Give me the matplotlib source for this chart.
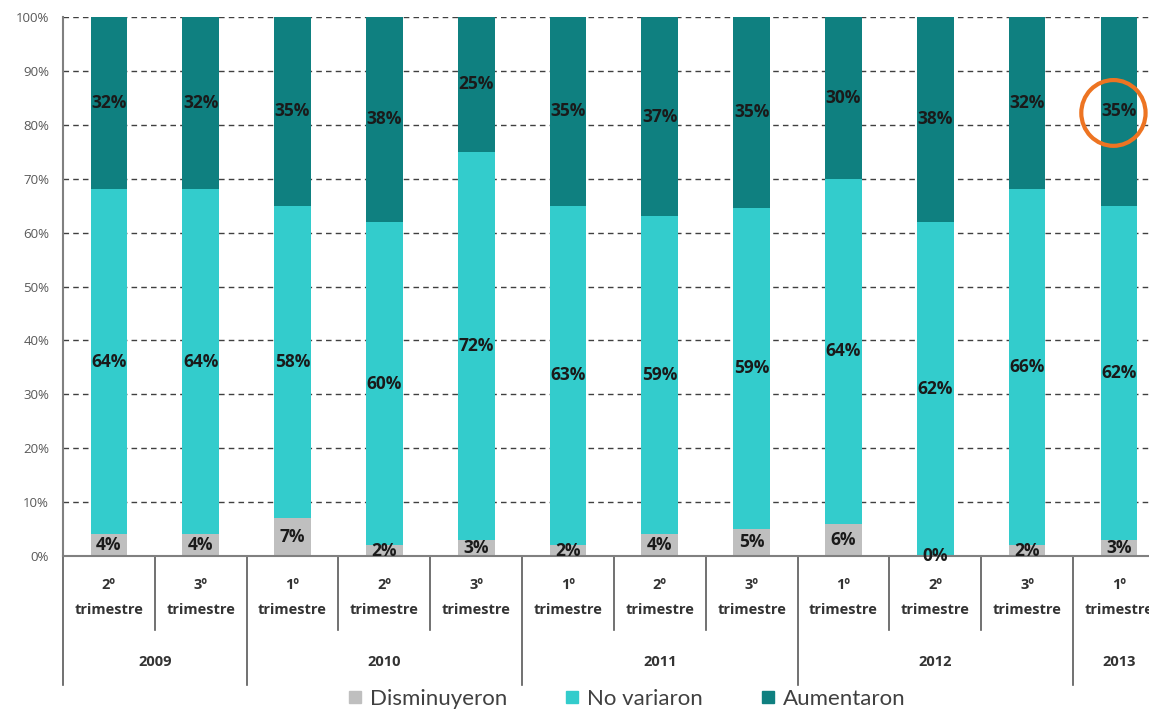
import matplotlib.pyplot as plt
from matplotlib.patches import Ellipse
from matplotlib.lines import Line2D

plt.rcParams['font.family'] = ['Open Sans', 'DejaVu Sans']

# Data
quarters = ["2º", "3º", "1º", "2º", "3º", "1º", "2º", "3º", "1º", "2º", "3º", "1º"]
years = ["2009", "2010", "2011", "2012", "2013"]
year_spans = [(0, 1), (2, 4), (5, 7), (8, 10), (11, 11)]
disminuyeron = [4, 4, 7, 2, 3, 2, 4, 5, 6, 0, 2, 3]
no_variaron = [64, 64, 58, 60, 72, 63, 59, 59, 64, 62, 66, 62]
aumentaron = [32, 32, 35, 38, 25, 35, 37, 35, 30, 38, 32, 35]

c_dis = "#BFBFBF"
c_nov = "#33CCCC"
c_aum = "#0F8080"

# 100% stacked: scale each bar to its total
tot = [a + b + c for a, b, c in zip(disminuyeron, no_variaron, aumentaron)]
h_dis = [v * 100 / t for v, t in zip(disminuyeron, tot)]
h_nov = [v * 100 / t for v, t in zip(no_variaron, tot)]
h_aum = [v * 100 / t for v, t in zip(aumentaron, tot)]
b_aum = [a + b for a, b in zip(h_dis, h_nov)]

fig = plt.figure(figsize=(11.49, 7.15), dpi=100)
ax = fig.add_axes([0.0548, 0.2224, 0.959, 0.7538])

x = list(range(len(quarters)))
w = 0.40
ax.bar(x, h_dis, w, color=c_dis, zorder=2)
ax.bar(x, h_nov, w, bottom=h_dis, color=c_nov, zorder=2)
ax.bar(x, h_aum, w, bottom=b_aum, color=c_aum, zorder=2)

lab = dict(ha="center", va="center", fontsize=12.5, fontweight="bold", color="#1a1a1a", zorder=4)
for i in x:
    ax.text(i, h_dis[i] / 2, f"{disminuyeron[i]}%", **lab)
    ax.text(i, h_dis[i] + h_nov[i] / 2, f"{no_variaron[i]}%", **lab)
    ax.text(i, b_aum[i] + h_aum[i] / 2, f"{aumentaron[i]}%", **lab)

ax.set_xlim(-0.5, 11.5)
ax.set_ylim(0, 100)
ax.set_yticks(range(0, 101, 10))
ax.set_yticklabels([f"{v}%" for v in range(0, 101, 10)], fontsize=9.5, color="#595959")
ax.yaxis.grid(True, linestyle=(0, (4, 3)), color="#404040", linewidth=1, zorder=1)
ax.set_xticks([])
ax.tick_params(axis="y", length=0, pad=10)
for s in ["top", "right"]:
    ax.spines[s].set_visible(False)
ax.spines["left"].set_color("#808080")
ax.spines["left"].set_linewidth(1.5)
ax.spines["bottom"].set_color("#808080")
ax.spines["bottom"].set_linewidth(1.5)

# category axis labels and separators
tr = ax.get_xaxis_transform()
for i, q in enumerate(quarters):
    ax.text(i, -0.054, q, transform=tr, ha="center", va="center",
            fontsize=10.5, fontweight="bold", color="#333333")
    ax.text(i, -0.100, "trimestre", transform=tr, ha="center", va="center",
            fontsize=10.5, fontweight="bold", color="#333333")
year_edges = [-0.5] + [e + 0.5 for _, e in year_spans]
for i in range(len(quarters)):
    b = i - 0.5
    if b in year_edges:
        continue
    ax.add_line(Line2D([b, b], [0, -0.137], transform=tr, color="#595959",
                       linewidth=1.2, clip_on=False))
for b in year_edges:
    ax.add_line(Line2D([b, b], [0, -0.239], transform=tr, color="#595959",
                       linewidth=1.2, clip_on=False))
for yr, (s, e) in zip(years, year_spans):
    ax.text((s + e) / 2, -0.197, yr, transform=tr, ha="center", va="center",
            fontsize=10.5, fontweight="bold", color="#333333")

# highlight circle
ax.add_patch(Ellipse((10.94, 82.2), 0.70, 12.2, fill=False, edgecolor="#ED7422",
                     linewidth=3, zorder=5, clip_on=False))

handles = [Line2D([], [], marker="s", linestyle="", color=c, markersize=8)
           for c in [c_dis, c_nov, c_aum]]
fig.legend(handles, ["Disminuyeron", "No variaron", "Aumentaron"], loc="center",
           bbox_to_anchor=(0.545, 0.022), ncol=3, frameon=False,
           prop={"family": "Lato", "size": 16},
           handlelength=0.7, handletextpad=0.3, columnspacing=2.6,
           labelcolor="#404040")

fig.savefig("out.png", dpi=100)
